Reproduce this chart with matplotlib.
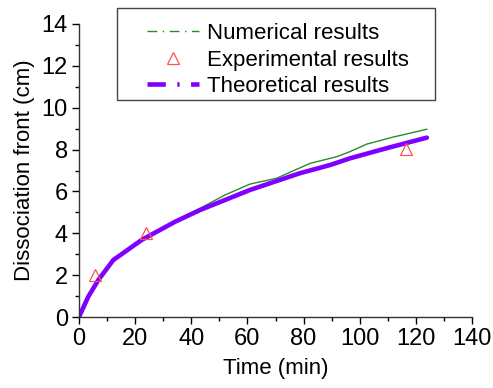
import matplotlib
matplotlib.use("Agg")
import matplotlib.pyplot as plt
from matplotlib.lines import Line2D
from matplotlib.patches import Rectangle
from matplotlib.ticker import MultipleLocator

plt.rcParams['font.family'] = ['Liberation Sans', 'DejaVu Sans']

# data
time_num = [0, 3.3, 6.9, 12.2, 22.3, 34.2, 43.1, 52, 60.9, 70.4, 82.3, 91.8, 96.5, 102.5, 112, 123.9]
front_num = [0, 0.97, 1.77, 2.72, 3.70, 4.60, 5.19, 5.83, 6.35, 6.63, 7.34, 7.66, 7.90, 8.26, 8.60, 8.97]

time_theory = [0, 3.3, 6.9, 12.2, 22.3, 34.2, 43.1, 52, 60.9, 78.7, 89.4, 96.5, 110, 123.9]
front_theory = [0, 0.97, 1.77, 2.72, 3.68, 4.55, 5.11, 5.59, 6.07, 6.87, 7.26, 7.58, 8.08, 8.57]

time_exp = [5.7, 23.8, 116.5]
front_exp = [2.0, 4.03, 8.01]

green = '#2a8a2a'
purple = '#8000ff'
red = '#ff5050'

W, H = 493, 388
fig = plt.figure(figsize=(W / 100, H / 100), dpi=100)
ax = fig.add_axes([79 / W, 1 - 317 / H, 393 / W, 293 / H])

ax.plot(time_num, front_num, color=green, lw=1.0)
ax.plot(time_theory, front_theory, color=purple, lw=3.3, solid_capstyle='round')
ax.plot(time_exp, front_exp, ls='none', marker='^', ms=8, mfc='none', mec=red, mew=0.9)

ax.set_xlim(0, 140)
ax.set_ylim(0, 14)
ax.xaxis.set_major_locator(MultipleLocator(20))
ax.xaxis.set_minor_locator(MultipleLocator(10))
ax.yaxis.set_major_locator(MultipleLocator(2))
ax.yaxis.set_minor_locator(MultipleLocator(1))
ax.tick_params(which='both', direction='out', width=1, labelsize=17, colors='black', pad=3)
ax.tick_params(which='major', length=5)
ax.tick_params(which='minor', length=3)
ax.spines['top'].set_visible(False)
ax.spines['right'].set_visible(False)
for s in ('left', 'bottom'):
    ax.spines[s].set_linewidth(1.0)
    ax.spines[s].set_color('#333333')

ax.set_xlabel('Time (min)', fontsize=16, labelpad=6)
ax.set_ylabel('Dissociation front (cm)', fontsize=16, labelpad=5)

handles = [
    Line2D([], [], color=green, lw=1.0, ls=(0, (7, 4, 1, 4))),
    Line2D([], [], ls='none', marker='^', ms=8, mfc='none', mec=red, mew=0.9),
    Line2D([], [], color=purple, lw=3.3, ls=(0, (4, 2.5, 0.5, 2.5))),
]
labels = ['Numerical results', 'Experimental results', 'Theoretical results']
leg = fig.legend(handles, labels, loc='upper left', bbox_to_anchor=(147 / W, 1 - 23 / H),
                 borderaxespad=0, borderpad=0, fontsize=16, frameon=False,
                 handlelength=2.35, handletextpad=0.35, labelspacing=0.25)

# legend frame, drawn a little wider than the entries as in the original
fig.patches.append(Rectangle((117 / W, 1 - 100 / H), 318 / W, 92 / H,
                             transform=fig.transFigure, fill=False,
                             edgecolor='#444444', lw=1.0))

fig.savefig('out.png', dpi=100)
